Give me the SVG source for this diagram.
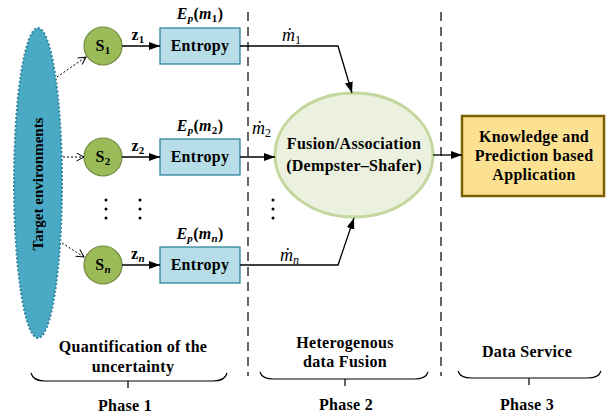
<svg xmlns="http://www.w3.org/2000/svg" width="608" height="417" viewBox="0 0 608 417">
<defs>
<marker id="ah" markerUnits="userSpaceOnUse" markerWidth="11" markerHeight="8" refX="11" refY="4" orient="auto"><path d="M0,0 L11,4 L0,8 z" fill="#000"/></marker>
<marker id="oh" markerUnits="userSpaceOnUse" markerWidth="9" markerHeight="9" refX="8" refY="4.5" orient="auto"><path d="M0.5,0.5 L8,4.5 L0.5,8.5" fill="none" stroke="#000" stroke-width="1"/></marker>
<style>
text{font-family:"Liberation Serif","Times New Roman",serif;font-weight:bold;fill:#000}
.t{font-size:16px;text-anchor:middle;letter-spacing:0.3px}
.sub{font-size:11px}
.sen{fill:#9bbb59;stroke:#71893f;stroke-width:1.2}
.ent{fill:#b7dee8;stroke:#31859c;stroke-width:1.3}
.conn{stroke:#000;stroke-width:1.3;fill:none}
.dot{stroke:#000;stroke-width:1;fill:none;stroke-dasharray:2 2}
.ph{stroke:#000;stroke-width:1.2;fill:none;stroke-dasharray:9 6}
.br{stroke:#000;stroke-width:1.2;fill:none}
.m{font-family:"Liberation Serif","Times New Roman",serif;font-weight:normal;font-style:italic;font-size:18px}
.e{font-style:italic}
</style>
</defs>

<g id="phase-lines">
<path class="ph" d="M248,12 V376"/>
<path class="ph" d="M441,12 V376"/>
</g>

<g id="target">
<ellipse cx="38" cy="183" rx="24" ry="155" fill="#4aaac6" stroke="#31859c" stroke-width="2" stroke-dasharray="2 2"/>
<text transform="translate(43,184) rotate(-90)" style="font-size:15px;text-anchor:middle">Target environments</text>
</g>

<g id="s1"><circle class="sen" cx="103" cy="46" r="19"/><text class="t" x="103" y="51">S<tspan class="sub" dy="3">1</tspan></text></g>
<g id="s2"><circle class="sen" cx="103" cy="157" r="19"/><text class="t" x="103" y="162">S<tspan class="sub" dy="3">2</tspan></text></g>
<g id="sn"><circle class="sen" cx="103" cy="265" r="19"/><text class="t" x="103" y="270">S<tspan class="sub e" dy="3">n</tspan></text></g>

<g id="entropy1"><rect class="ent" x="160" y="28" width="80" height="36"/><text class="t" x="200" y="51">Entropy</text>
<text class="t" x="200" y="19"><tspan class="e">E</tspan><tspan class="sub e" dy="3">p</tspan><tspan dy="-3">(</tspan><tspan class="e">m</tspan><tspan class="sub" dy="3">1</tspan><tspan dy="-3">)</tspan></text></g>
<g id="entropy2"><rect class="ent" x="160" y="139" width="80" height="36"/><text class="t" x="200" y="162">Entropy</text>
<text class="t" x="200" y="131"><tspan class="e">E</tspan><tspan class="sub e" dy="3">p</tspan><tspan dy="-3">(</tspan><tspan class="e">m</tspan><tspan class="sub" dy="3">2</tspan><tspan dy="-3">)</tspan></text></g>
<g id="entropyn"><rect class="ent" x="160" y="247" width="80" height="36"/><text class="t" x="200" y="270">Entropy</text>
<text class="t" x="200" y="239"><tspan class="e">E</tspan><tspan class="sub e" dy="3">p</tspan><tspan dy="-3">(</tspan><tspan class="e">m</tspan><tspan class="sub e" dy="3">n</tspan><tspan dy="-3">)</tspan></text></g>

<g id="fusion"><ellipse cx="354" cy="155" rx="79" ry="62" fill="#ebf1de" stroke="#c3d69b" stroke-width="3"/>
<text class="t" x="354" y="149">Fusion/Association</text>
<text class="t" x="354" y="171">(Dempster–Shafer)</text></g>

<g id="application"><rect x="462" y="116" width="142" height="80" fill="#fde193" stroke="#7f6000" stroke-width="2.5"/>
<text class="t" x="534" y="142">Knowledge and</text>
<text class="t" x="534" y="161">Prediction based</text>
<text class="t" x="534" y="180">Application</text></g>

<g id="connectors">
<path class="dot" d="M57,77 L86,57" marker-end="url(#oh)"/>
<path class="dot" d="M63,157 L84,157" marker-end="url(#oh)"/>
<path class="dot" d="M62,243 L84,257" marker-end="url(#oh)"/>
<path class="conn" d="M122,46 H160" marker-end="url(#ah)"/>
<path class="conn" d="M122,157 H160" marker-end="url(#ah)"/>
<path class="conn" d="M122,265 H160" marker-end="url(#ah)"/>
<path class="conn" d="M240,46 H338 L352,93" marker-end="url(#ah)"/>
<path class="conn" d="M240,157 H275" marker-end="url(#ah)"/>
<path class="conn" d="M240,265 H338 L354,218" marker-end="url(#ah)"/>
<path class="conn" d="M433,155 H462" marker-end="url(#ah)"/>
<text class="t" x="138" y="40">z<tspan class="sub" dy="3">1</tspan></text>
<text class="t" x="138" y="151">z<tspan class="sub" dy="3">2</tspan></text>
<text class="t" x="138" y="259">z<tspan class="sub e" dy="3">n</tspan></text>
<text class="m" x="282" y="41">ṁ<tspan font-size="12" font-style="normal" dy="3">1</tspan></text>
<text class="m" x="252" y="134">ṁ<tspan font-size="12" font-style="normal" dy="3">2</tspan></text>
<text class="m" x="280" y="261">ṁ<tspan font-size="12" dy="3">n</tspan></text>
</g>

<g id="ellipsis">
<circle cx="106" cy="200" r="1.5"/><circle cx="106" cy="209" r="1.5"/><circle cx="106" cy="218" r="1.5"/>
<circle cx="140" cy="200" r="1.5"/><circle cx="140" cy="209" r="1.5"/><circle cx="140" cy="218" r="1.5"/>
<circle cx="273" cy="200" r="1.5"/><circle cx="273" cy="209" r="1.5"/><circle cx="273" cy="218" r="1.5"/>
</g>

<g id="phase1">
<text class="t" x="133" y="352">Quantification of  the</text>
<text class="t" x="133" y="372">uncertainty</text>
<path class="br" d="M31,373 Q33,381 45,381 H213 Q225,381 227,373 M128,381 V388"/>
<text class="t" x="125" y="411">Phase 1</text>
</g>
<g id="phase2">
<text class="t" x="345" y="348">Heterogenous</text>
<text class="t" x="345" y="367">data Fusion</text>
<path class="br" d="M260,372 Q262,379 274,379 H414 Q426,379 428,372 M345,379 V386"/>
<text class="t" x="346" y="410">Phase 2</text>
</g>
<g id="phase3">
<text class="t" x="527" y="357">Data Service</text>
<path class="br" d="M458,371 Q460,378 472,378 H587 Q599,378 601,371 M529,378 V385"/>
<text class="t" x="527" y="410">Phase 3</text>
</g>
</svg>
